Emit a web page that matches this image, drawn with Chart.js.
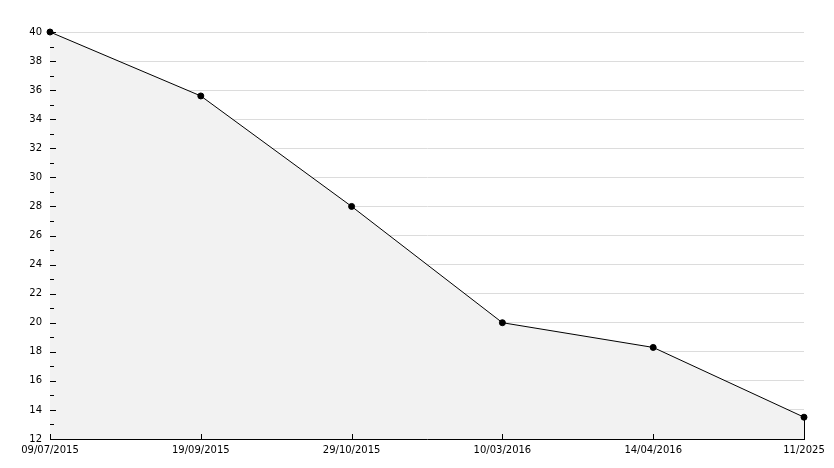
<!DOCTYPE html>
<html>
<head>
<meta charset="utf-8">
<script src="https://cdn.jsdelivr.net/npm/chart.js@4"></script>
<style>
  html, body { margin: 0; padding: 0; background: #fff; }
  #wrap { width: 834px; height: 468px; }
</style>
</head>
<body>
<div id="wrap"><canvas id="chart"></canvas></div>
<script>
const dates = ['09/07/2015', '19/09/2015', '29/10/2015', '10/03/2016', '14/04/2016', '11/2025'];
const values = [40, 35.6, 28, 20, 18.3, 13.5];
const yMin = 12;
const yMax = 40;

// tick marks drawn inside the plot, plus closing edge of the filled area
const innerTicks = {
  id: 'innerTicks',
  afterDatasetsDraw(chart) {
    const ctx = chart.ctx;
    const x = chart.scales.x;
    const y = chart.scales.y;
    const left = chart.chartArea.left;
    const bottom = chart.chartArea.bottom;
    ctx.save();
    ctx.strokeStyle = '#000';
    ctx.lineWidth = 1;
    ctx.beginPath();
    for (let v = yMin; v <= yMax; v++) {
      const py = Math.round(y.getPixelForValue(v)) + 0.5;
      const len = v % 2 === 0 ? 6 : 4;
      ctx.moveTo(left, py);
      ctx.lineTo(left + len, py);
    }
    for (let i = 0; i < dates.length; i++) {
      const px = Math.round(x.getPixelForValue(i)) + 0.5;
      ctx.moveTo(px, bottom);
      ctx.lineTo(px, bottom - 5);
    }
    const meta = chart.getDatasetMeta(0);
    const last = meta.data[meta.data.length - 1];
    const lx = Math.round(last.x) + 0.5;
    ctx.moveTo(lx, bottom);
    ctx.lineTo(lx, last.y);
    ctx.stroke();
    ctx.restore();
  }
};

Chart.defaults.font.family = 'DejaVu Sans';
Chart.defaults.font.size = 10;
Chart.defaults.color = '#000';

new Chart(document.getElementById('chart'), {
  type: 'line',
  data: {
    labels: dates,
    datasets: [{
      data: values,
      borderColor: '#000',
      borderWidth: 1,
      backgroundColor: '#f2f2f2',
      fill: 'start',
      tension: 0,
      clip: false,
      pointRadius: 3,
      pointBackgroundColor: '#000',
      pointBorderColor: '#000',
      pointStyle: 'circle'
    }]
  },
  options: {
    responsive: true,
    maintainAspectRatio: false,
    animation: false,
    layout: { padding: { top: 32, right: 30, bottom: 7, left: 0 } },
    plugins: {
      legend: { display: false },
      tooltip: { enabled: false }
    },
    scales: {
      x: {
        offset: false,
        grid: { display: false, drawTicks: false },
        border: { color: '#000', width: 1 },
        ticks: { padding: 5, maxRotation: 0, autoSkip: false }
      },
      y: {
        min: yMin,
        max: yMax,
        afterFit(scale) { scale.width = 50; },
        grid: {
          drawTicks: false,
          color: '#dcdcdc'
        },
        border: { color: '#000', width: 1 },
        ticks: { stepSize: 2, padding: 8 }
      }
    }
  },
  plugins: [innerTicks]
});
</script>
</body>
</html>
